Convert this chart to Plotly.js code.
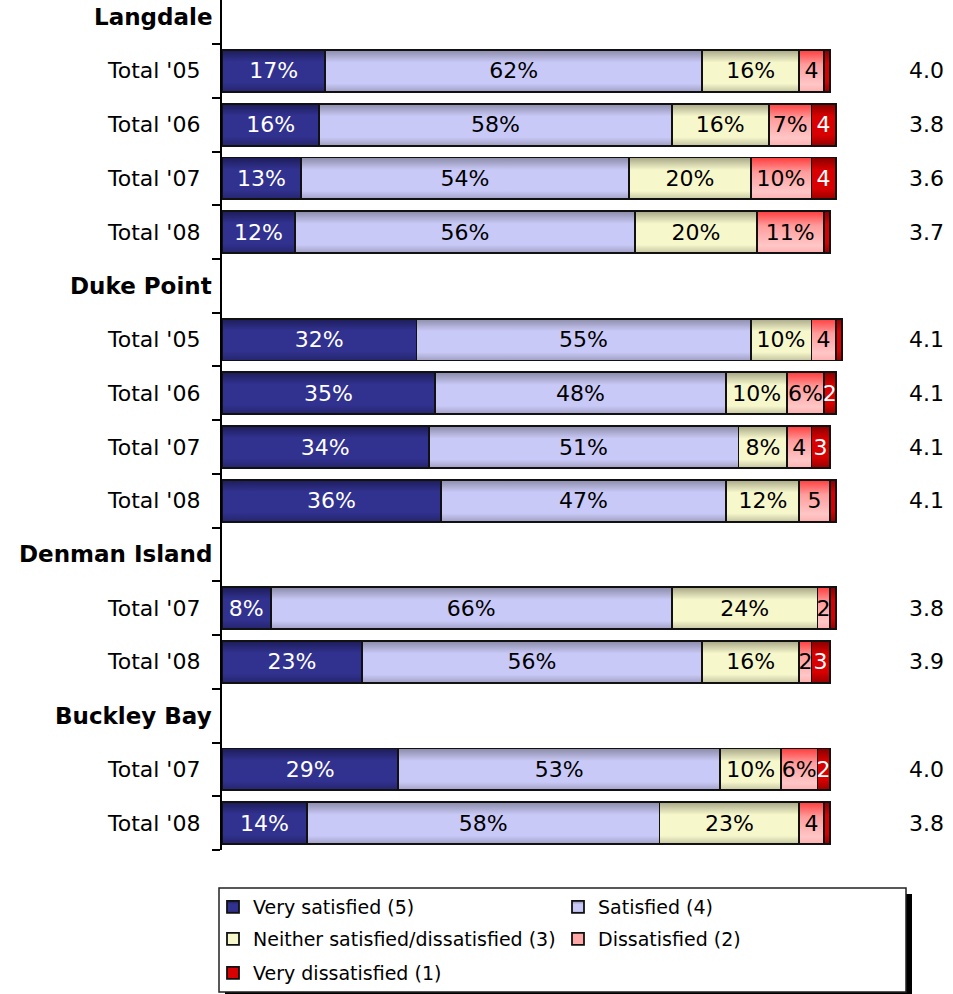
<!DOCTYPE html>
<html>
<head>
<meta charset="utf-8">
<script src="https://cdn.plot.ly/plotly-3.0.1.min.js"></script>
<style>
  html, body { margin: 0; padding: 0; background: #fff; }
  #chart { width: 953px; height: 994px; }
</style>
</head>
<body>
<div id="chart"></div>
<script>
// Row labels (top to bottom); header rows carry no bar values
const rowLabels = ["Langdale", "Total '05", "Total '06", "Total '07", "Total '08",
                   "Duke Point", "Total '05", "Total '06", "Total '07", "Total '08",
                   "Denman Island", "Total '07", "Total '08",
                   "Buckley Bay", "Total '07", "Total '08"];
const isHeader = [true, false, false, false, false,
                  true, false, false, false, false,
                  true, false, false,
                  true, false, false];

// Series values (%)
const verySatisfied    = [null, 17, 16, 13, 12, null, 32, 35, 34, 36, null,  8, 23, null, 29, 14];
const satisfied        = [null, 62, 58, 54, 56, null, 55, 48, 51, 47, null, 66, 56, null, 53, 58];
const neither          = [null, 16, 16, 20, 20, null, 10, 10,  8, 12, null, 24, 16, null, 10, 23];
const dissatisfied     = [null,  4,  7, 10, 11, null,  4,  6,  4,  5, null,  2,  2, null,  6,  4];
const veryDissatisfied = [null,  1,  4,  4,  1, null,  1,  2,  3,  1, null,  1,  3, null,  2,  1];

// Mean scores shown at right
const meanScores = [null, "4.0", "3.8", "3.6", "3.7", null, "4.1", "4.1", "4.1", "4.1",
                    null, "3.8", "3.9", null, "4.0", "3.8"];

const seriesNames = ["Very satisfied (5)", "Satisfied (4)", "Neither satisfied/dissatisfied (3)",
                     "Dissatisfied (2)", "Very dissatisfied (1)"];
const seriesValues = [verySatisfied, satisfied, neither, dissatisfied, veryDissatisfied];
const seriesColors = ["#31318f", "#c9c9f7", "#f7f7cc", "#ffa8a8", "#d80000"];
// vertical shading stops per series (top -> bottom)
const seriesShading = [
  [[0, "#1c1c58"], [0.28, "#31318f"], [0.78, "#31318f"], [1, "#25256e"]],
  [[0, "#8a8aa8"], [0.3, "#c9c9f7"], [0.8, "#c9c9f7"], [1, "#a0a0c4"]],
  [[0, "#a6a686"], [0.3, "#f7f7cc"], [0.8, "#f7f7cc"], [1, "#c4c4a0"]],
  [[0, "#ff3c3c"], [0.35, "#ff9c9c"], [0.82, "#ffc6c6"], [1, "#ffb0b0"]],
  [[0, "#860000"], [0.3, "#d80000"], [0.75, "#d80000"], [1, "#980000"]]
];
const textColors = ["#ffffff", "#000000", "#000000", "#000000", "#ffffff"];
// legend rows: which legend each series goes to
const legendOf = ["legend", "legend", "legend2", "legend2", "legend3"];

const FONT = "DejaVu Sans, Verdana, sans-serif";
const rowIdx = rowLabels.map((_, i) => i);

function fmt(v) {
  if (v === null || v === undefined) return "";
  if (v >= 6) return v + "%";
  if (v >= 2) return String(v);
  return "";
}

const traces = seriesValues.map((vals, k) => ({
  type: "bar",
  orientation: "h",
  name: seriesNames[k],
  legend: legendOf[k],
  x: vals,
  y: rowIdx,
  text: vals.map(fmt),
  textposition: "inside",
  insidetextanchor: "middle",
  textangle: 0,
  constraintext: "none",
  cliponaxis: false,
  insidetextfont: { family: FONT, size: 22, color: textColors[k] },
  marker: { color: seriesColors[k], line: { color: "#111111", width: 1.8 } },
  hoverinfo: "skip"
}));

const annotations = [];
rowLabels.forEach((lab, i) => {
  annotations.push({
    xref: "paper", yref: "y", x: 0, y: i,
    xanchor: "right", yanchor: "middle",
    xshift: isHeader[i] ? -8 : -20,
    text: isHeader[i] ? "<b>" + lab + "</b>" : lab,
    showarrow: false,
    font: { family: FONT, size: isHeader[i] ? 23 : 22, color: "#000" }
  });
  if (meanScores[i] !== null) {
    annotations.push({
      xref: "paper", yref: "y", x: 1, y: i,
      xanchor: "right", yanchor: "middle", xshift: -4,
      text: meanScores[i], showarrow: false,
      font: { family: FONT, size: 22, color: "#000" }
    });
  }
});

const tickVals = rowIdx.map(i => i + 0.5);

// legend geometry (plot area: left 222px, width 728px, top 0, height 850px)
const PL = 222, PW = 728, PH = 850;
const fx = px => (px - PL) / PW;
const fy = py => (PH - py) / PH;
const legendRowsY = [907, 939, 973];
function legendCfg(rowY) {
  return {
    orientation: "h",
    x: fx(213), xanchor: "left",
    y: fy(rowY), yanchor: "middle",
    entrywidth: 300, entrywidthmode: "pixels",
    traceorder: "normal",
    font: { family: FONT, size: 19, color: "#000" },
    bgcolor: "rgba(0,0,0,0)", borderwidth: 0,
    itemclick: false, itemdoubleclick: false
  };
}

const layout = {
  width: 953, height: 994,
  margin: { l: PL, r: 953 - PL - PW, t: 0, b: 994 - PH, pad: 0 },
  paper_bgcolor: "#ffffff",
  plot_bgcolor: "#ffffff",
  barmode: "stack",
  bargap: 0.22,
  showlegend: true,
  font: { family: FONT, color: "#000" },
  xaxis: { range: [0, 119.8], visible: false, fixedrange: true },
  yaxis: {
    range: [15.5, -0.32],
    tickmode: "array", tickvals: tickVals, showticklabels: false,
    ticks: "outside", ticklen: 8, tickwidth: 2, tickcolor: "#000",
    showline: true, linewidth: 2, linecolor: "#000",
    showgrid: false, zeroline: false, fixedrange: true
  },
  legend: legendCfg(legendRowsY[0]),
  legend2: legendCfg(legendRowsY[1]),
  legend3: legendCfg(legendRowsY[2]),
  shapes: [
    // legend frame shadow
    { type: "rect", xref: "paper", yref: "paper", layer: "above",
      x0: fx(225), x1: fx(912), y0: fy(998), y1: fy(894),
      fillcolor: "#000", line: { width: 0 } },
    // legend frame
    { type: "rect", xref: "paper", yref: "paper", layer: "above",
      x0: fx(219), x1: fx(906), y0: fy(992), y1: fy(888),
      fillcolor: "#fff", line: { color: "#222", width: 1.5 } }
  ],
  annotations: annotations
};

Plotly.newPlot("chart", traces, layout, { displayModeBar: false, staticPlot: true }).then(gd => {
  // cylinder-like vertical shading, as in the original bars
  const svg = gd.querySelector("svg.main-svg");
  const NS = "http://www.w3.org/2000/svg";
  let defs = svg.querySelector("defs");
  if (!defs) { defs = document.createElementNS(NS, "defs"); svg.insertBefore(defs, svg.firstChild); }
  seriesShading.forEach((stops, k) => {
    const lg = document.createElementNS(NS, "linearGradient");
    lg.setAttribute("id", "barGrad" + k);
    lg.setAttribute("x1", "0"); lg.setAttribute("y1", "0");
    lg.setAttribute("x2", "0"); lg.setAttribute("y2", "1");
    stops.forEach(([o, col]) => {
      const s = document.createElementNS(NS, "stop");
      s.setAttribute("offset", o); s.setAttribute("stop-color", col);
      lg.appendChild(s);
    });
    defs.appendChild(lg);
  });
  gd.querySelectorAll(".barlayer .trace").forEach((tg, k) => {
    tg.querySelectorAll(".point path").forEach(p => { p.style.fill = "url(#barGrad" + k + ")"; });
  });
  gd.querySelectorAll(".legend .traces").forEach(t => {
    const name = t.querySelector(".legendtext").textContent;
    const k = seriesNames.indexOf(name);
    if (k >= 0) t.querySelectorAll(".legendpoints path").forEach(p => { p.style.fill = "url(#barGrad" + k + ")"; });
  });
});
</script>
</body>
</html>
